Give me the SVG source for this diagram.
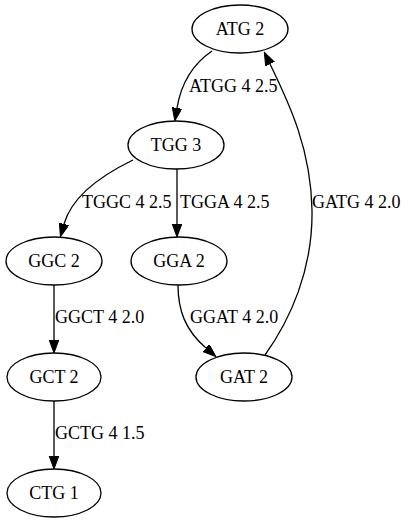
<svg xmlns="http://www.w3.org/2000/svg" width="409" height="523" viewBox="0 0 409 523">
<style>
.n ellipse{fill:none;stroke:#000;stroke-width:1.3}
text{font-family:"Liberation Serif","Times New Roman",serif;font-size:18px;fill:#000}
.n text{text-anchor:middle}
.e path{fill:none;stroke:#000;stroke-width:1.3;marker-end:url(#ah)}
</style>
<defs>
<marker id="ah" markerUnits="userSpaceOnUse" markerWidth="14" markerHeight="12" refX="0" refY="4.8" orient="auto">
<path d="M0,0 L13,4.8 L0,9.6 z" fill="#000" stroke="#000" stroke-width="1"/>
</marker>
</defs>
<rect width="409" height="523" fill="#fff"/>
<g id="edges" class="e">
<path d="M212,51 C193,64 181,84 177,108"/>
<path d="M133,160 C100,176 72,196 64,224"/>
<path d="M177,169 L177,224"/>
<path d="M54,285 L54,340"/>
<path d="M178,285 C178,310 185,330 206,348"/>
<path d="M265,355 C290,320 313,270 312,210 C311,150 290,105 270,64"/>
<path d="M54,401 L54,456"/>
<text x="189" y="92">ATGG 4 2.5</text>
<text x="82" y="208">TGGC 4 2.5</text>
<text x="180" y="208">TGGA 4 2.5</text>
<text x="312" y="208">GATG 4 2.0</text>
<text x="55" y="323">GGCT 4 2.0</text>
<text x="190" y="323">GGAT 4 2.0</text>
<text x="55" y="439">GCTG 4 1.5</text>
</g>
<g id="ATG" class="n"><ellipse cx="240" cy="29" rx="48" ry="24"/><text x="240" y="34.5">ATG 2</text></g>
<g id="TGG" class="n"><ellipse cx="176" cy="145" rx="48" ry="24"/><text x="176" y="150.5">TGG 3</text></g>
<g id="GGC" class="n"><ellipse cx="54" cy="261" rx="48" ry="24"/><text x="54" y="266.5">GGC 2</text></g>
<g id="GGA" class="n"><ellipse cx="179" cy="261" rx="48" ry="24"/><text x="179" y="266.5">GGA 2</text></g>
<g id="GCT" class="n"><ellipse cx="54" cy="377" rx="47" ry="24"/><text x="54" y="382.5">GCT 2</text></g>
<g id="GAT" class="n"><ellipse cx="244" cy="377" rx="48" ry="24"/><text x="244" y="382.5">GAT 2</text></g>
<g id="CTG" class="n"><ellipse cx="54" cy="493" rx="47" ry="24"/><text x="54" y="498.5">CTG 1</text></g>
</svg>
